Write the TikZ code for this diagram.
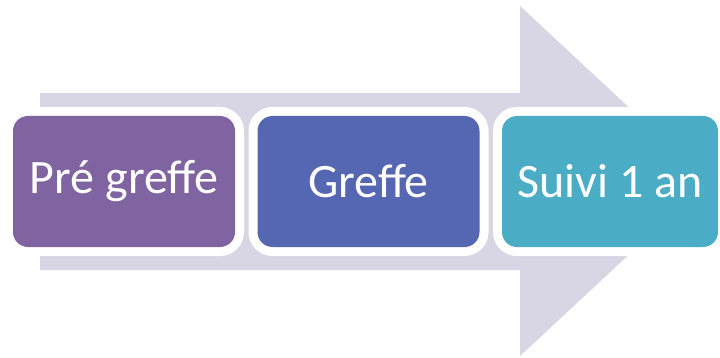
\documentclass[tikz,border=0pt]{standalone}
\usepackage{fontspec}
\setmainfont{Carlito}
\definecolor{arrowc}{HTML}{D8D5E4}
\definecolor{boxa}{HTML}{8064A2}
\definecolor{boxb}{HTML}{5566B2}
\definecolor{boxc}{HTML}{4BACC6}
\begin{document}
\begin{tikzpicture}[x=1pt,y=-1pt,
  stagebox/.style={preaction={draw=white, line width=18pt}, rounded corners=15pt,
    minimum width=222pt, minimum height=131pt, inner sep=0pt, outer sep=0pt,
    font=\fontsize{48}{52}\selectfont, text=white}]
\useasboundingbox (0,0) rectangle (720,358);
\fill[white] (0,0) rectangle (720,358);
\fill[arrowc] (40,93) -- (520,93) -- (520,6) -- (708,181) -- (520,356) -- (520,270) -- (40,270) -- cycle;
\node[stagebox, fill=boxa] (a) at (124,181.5) {Pré greffe};
\node[stagebox, fill=boxb] (b) at (368.5,181.5) {Greffe};
\node[stagebox, fill=boxc, minimum width=216pt] (c) at (610,181.5) {Suivi 1 an};
\end{tikzpicture}
\end{document}
